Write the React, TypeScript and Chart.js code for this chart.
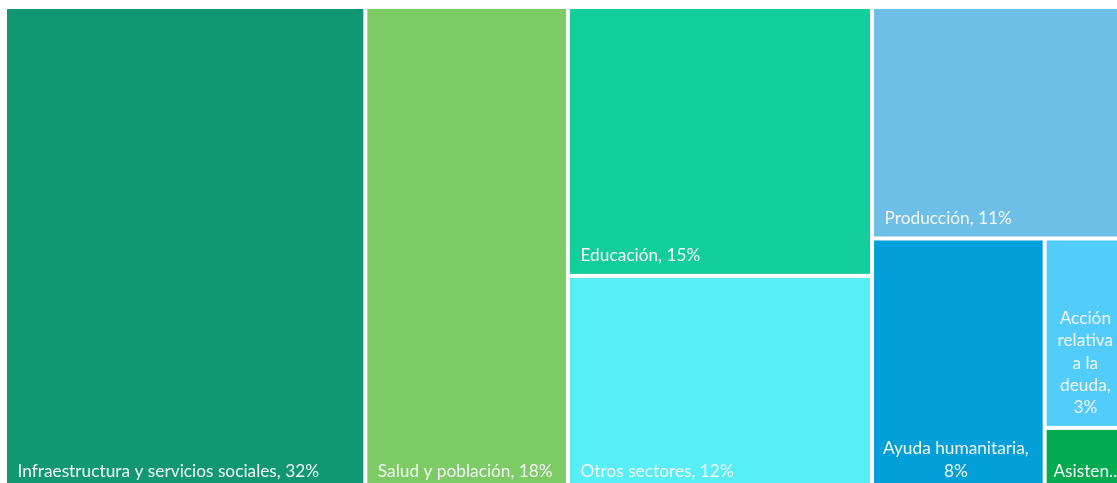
import React, { useEffect, useRef } from "react";
import { Chart, registerables } from "chart.js";

Chart.register(...registerables);

const labels = [
  "Infraestructura y servicios sociales",
  "Salud y población",
  "Educación",
  "Otros sectores",
  "Producción",
  "Ayuda humanitaria",
  "Acción relativa a la deuda",
  "Asistencia técnica",
];
const values = [32, 18, 15, 12, 11, 8, 3, 1];
const colors = [
  "#119873",
  "#7DCB65",
  "#12CE9B",
  "#57EEF6",
  "#6EBFE7",
  "#039FD8",
  "#52CCFB",
  "#02AB4F",
];
// nesting of the tiles: level 0 splits side by side, level 1 stacks, alternating
const layoutTree: any[] = [0, 1, [2, 3], [4, [5, [6, 7]]]];

type Tile = { i: number; x0: number; x1: number; y0: number; y1: number };

function sumNode(n: any): number {
  return Array.isArray(n) ? n.reduce((s: number, c: any) => s + sumNode(c), 0) : values[n];
}

function layout(node: any, x0: number, x1: number, y0: number, y1: number, depth: number, out: Tile[]) {
  if (!Array.isArray(node)) {
    out.push({ i: node, x0, x1, y0, y1 });
    return;
  }
  const total = sumNode(node);
  let acc = 0;
  for (const c of node) {
    const s = sumNode(c);
    const a = acc / total;
    const b = (acc + s) / total;
    if (depth % 2 === 0) {
      layout(c, x0 + (x1 - x0) * a, x0 + (x1 - x0) * b, y0, y1, depth + 1, out);
    } else {
      layout(c, x0, x1, y0 + (y1 - y0) * a, y0 + (y1 - y0) * b, depth + 1, out);
    }
    acc += s;
  }
}

const FONT = "17.3px Lato";
const LINE_H = 22.4;

const treemapPlugin = {
  id: "treemapCells",
  afterDatasetsDraw(chart: any) {
    const ctx = chart.ctx as CanvasRenderingContext2D;
    const xs = chart.scales.x;
    const ys = chart.scales.y;
    const tiles: Tile[] = [];
    layout(layoutTree, 0, 100, 0, 100, 0, tiles);
    ctx.save();
    for (const t of tiles) {
      const L = xs.getPixelForValue(t.x0);
      const R = xs.getPixelForValue(t.x1);
      const T = ys.getPixelForValue(t.y0);
      const B = ys.getPixelForValue(t.y1);
      ctx.fillStyle = colors[t.i];
      ctx.fillRect(L + 2, T + 2, R - L - 4, B - T - 4);
    }
    ctx.font = FONT;
    ctx.fillStyle = "#F3F6F5";
    ctx.textBaseline = "alphabetic";
    for (const t of tiles) {
      const L = xs.getPixelForValue(t.x0);
      const R = xs.getPixelForValue(t.x1);
      const B = ys.getPixelForValue(t.y1);
      const text = `${labels[t.i]}, ${values[t.i]}%`;
      const avail = R - L - 20;
      const baseY = B - 14.5;
      if (ctx.measureText(text).width <= avail) {
        ctx.textAlign = "left";
        ctx.fillText(text, L + 12.5, baseY);
        continue;
      }
      const words = text.split(" ");
      const lines: string[] = [];
      let cur = "";
      let truncated = false;
      for (const w of words) {
        if (ctx.measureText(w).width > avail) {
          let s = w;
          while (s.length > 1 && ctx.measureText(s + "..").width > avail) s = s.slice(0, -1);
          lines.length = 0;
          lines.push(s + "..");
          truncated = true;
          cur = "";
          break;
        }
        const cand = cur ? cur + " " + w : w;
        if (ctx.measureText(cand).width <= avail) cur = cand;
        else {
          lines.push(cur);
          cur = w;
        }
      }
      if (!truncated && cur) lines.push(cur);
      ctx.textAlign = "center";
      const cx = (L + R) / 2 - 2.5;
      lines.forEach((ln, k) => {
        ctx.fillText(ln, cx, baseY - (lines.length - 1 - k) * LINE_H);
      });
    }
    ctx.restore();
  },
};

export default function App() {
  const ref = useRef<HTMLCanvasElement | null>(null);
  useEffect(() => {
    if (!ref.current) return;
    const chart = new Chart(ref.current, {
      type: "scatter",
      data: { datasets: [{ data: [] }] },
      options: {
        animation: false,
        responsive: false,
        devicePixelRatio: 1,
        layout: { padding: 0 },
        plugins: { legend: { display: false }, tooltip: { enabled: false } },
        scales: {
          x: { type: "linear", min: 0, max: 100, display: false },
          y: { type: "linear", min: 0, max: 100, reverse: true, display: false },
        },
      },
      plugins: [treemapPlugin],
    });
    return () => chart.destroy();
  }, []);
  return (
    <div
      style={{
        position: "fixed",
        left: 0,
        top: 0,
        width: 1117,
        height: 483,
        overflow: "hidden",
        background: "#fff",
      }}
    >
      <canvas
        ref={ref}
        width={1126}
        height={484}
        style={{ position: "absolute", left: 5, top: 7, width: 1126, height: 484 }}
      />
    </div>
  );
}
